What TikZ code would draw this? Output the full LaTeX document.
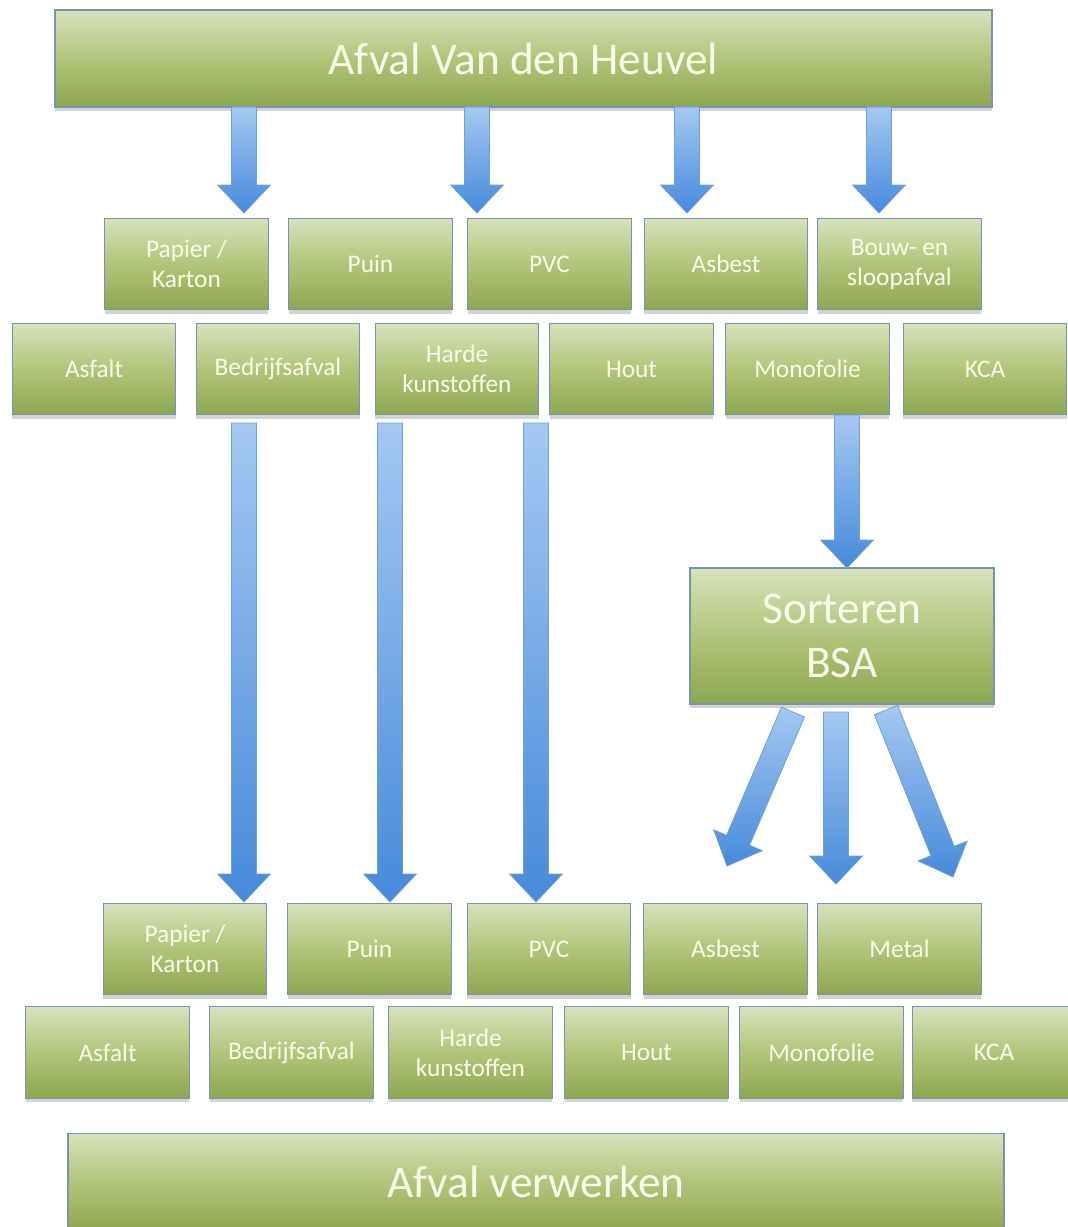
\documentclass[tikz,border=0pt]{standalone}
\usepackage{fontspec}
\setmainfont{Carlito}
\usetikzlibrary{calc,shadows}
\definecolor{gtop}{RGB}{216,226,188}
\definecolor{gmid}{RGB}{176,197,122}
\definecolor{gbot}{RGB}{141,167,80}
\definecolor{gborder}{RGB}{118,148,178}
\definecolor{txt}{RGB}{250,251,232}
\definecolor{atop}{RGB}{165,200,242}
\definecolor{abot}{RGB}{70,138,218}
\definecolor{aborder}{RGB}{112,160,214}
\tikzset{
  box/.style={rectangle, draw=gborder, line width=0.8pt, top color=gtop, bottom color=gbot, middle color=gmid,
    text=txt, align=center, inner sep=0pt, minimum width=122.5pt, minimum height=68.5pt,
    font=\fontsize{19}{22.5}\selectfont,
    drop shadow={shadow xshift=0pt, shadow yshift=-3pt, opacity=0.35}},
  bigbox/.style={box, font=\fontsize{34}{40}\selectfont},
  barrow/.style={draw=aborder, line width=0.6pt, top color=atop, bottom color=abot}
}
\newcommand{\blockarrow}[2]{%
  \coordinate (hh) at ($(#2)!21pt!(#1)$);
  \path[barrow] ($(#1)!9.4pt!90:(#2)$) -- ($(hh)!9.4pt!90:(#2)$) -- ($(hh)!19.8pt!90:(#2)$) -- (#2)
     -- ($(hh)!19.8pt!-90:(#2)$) -- ($(hh)!9.4pt!-90:(#2)$) -- ($(#1)!9.4pt!-90:(#2)$) -- cycle;
}
\begin{document}
\begin{tikzpicture}[x=0.75pt, y=-0.75pt]
\useasboundingbox (0,0) rectangle (1067,1227);
% top
\node[bigbox, minimum width=702.75pt, minimum height=72.75pt] (top) at (523.5,58.5) {Afval Van den Heuvel};
% row 1
\node[box] (r1a) at (186.5,264) {Papier /\\Karton};
\node[box] (r1b) at (370.5,264) {Puin};
\node[box] (r1c) at (549.5,264) {PVC};
\node[box] (r1d) at (726,264) {Asbest};
\node[box] (r1e) at (899.5,264) {Bouw- en\\sloopafval};
% row 2
\node[box] (r2a) at (94,369) {Asfalt};
\node[box] (r2b) at (278,369) {Bedrijfsafval};
\node[box] (r2c) at (457,369) {Harde\\kunstoffen};
\node[box] (r2d) at (631.5,369) {Hout};
\node[box] (r2e) at (807.5,369) {Monofolie};
\node[box] (r2f) at (985,369) {KCA};
% sorteren
\node[bigbox, minimum width=228pt, minimum height=102pt] (sort) at (842,636) {Sorteren\\BSA};
% bottom row 1
\node[box] (b1a) at (185,949) {Papier /\\Karton};
\node[box] (b1b) at (369.5,949) {Puin};
\node[box] (b1c) at (549,949) {PVC};
\node[box] (b1d) at (725.5,949) {Asbest};
\node[box] (b1e) at (899.5,949) {Metal};
% bottom row 2
\node[box] (b2a) at (107.5,1052.5) {Asfalt};
\node[box] (b2b) at (291.5,1052.5) {Bedrijfsafval};
\node[box] (b2c) at (470.5,1052.5) {Harde\\kunstoffen};
\node[box] (b2d) at (646.5,1052.5) {Hout};
\node[box] (b2e) at (821.5,1052.5) {Monofolie};
\node[box] (b2f) at (994,1052.5) {KCA};
% bottom
\node[bigbox, minimum width=702pt, minimum height=72.75pt] (bot) at (536,1182) {Afval verwerken};
% arrow ends
\coordinate (t1s) at (244,107);  \coordinate (t1e) at (244,213);
\coordinate (t2s) at (477,107);  \coordinate (t2e) at (477,213);
\coordinate (t3s) at (687,107);  \coordinate (t3e) at (687,213);
\coordinate (t4s) at (879,107);  \coordinate (t4e) at (879,213);
\coordinate (l1s) at (244,423);  \coordinate (l1e) at (244,902);
\coordinate (l2s) at (390,423);  \coordinate (l2e) at (390,902);
\coordinate (l3s) at (536,423);  \coordinate (l3e) at (536,902);
\coordinate (ms) at (847,415);   \coordinate (me) at (847,568);
\coordinate (s1s) at (793,712);  \coordinate (s1e) at (727,866);
\coordinate (s2s) at (836,712);  \coordinate (s2e) at (836,884);
\coordinate (s3s) at (886,710);  \coordinate (s3e) at (953,877);
\blockarrow{t1s}{t1e}
\blockarrow{t2s}{t2e}
\blockarrow{t3s}{t3e}
\blockarrow{t4s}{t4e}
\blockarrow{l1s}{l1e}
\blockarrow{l2s}{l2e}
\blockarrow{l3s}{l3e}
\blockarrow{ms}{me}
\blockarrow{s1s}{s1e}
\blockarrow{s2s}{s2e}
\blockarrow{s3s}{s3e}
\end{tikzpicture}
\end{document}
